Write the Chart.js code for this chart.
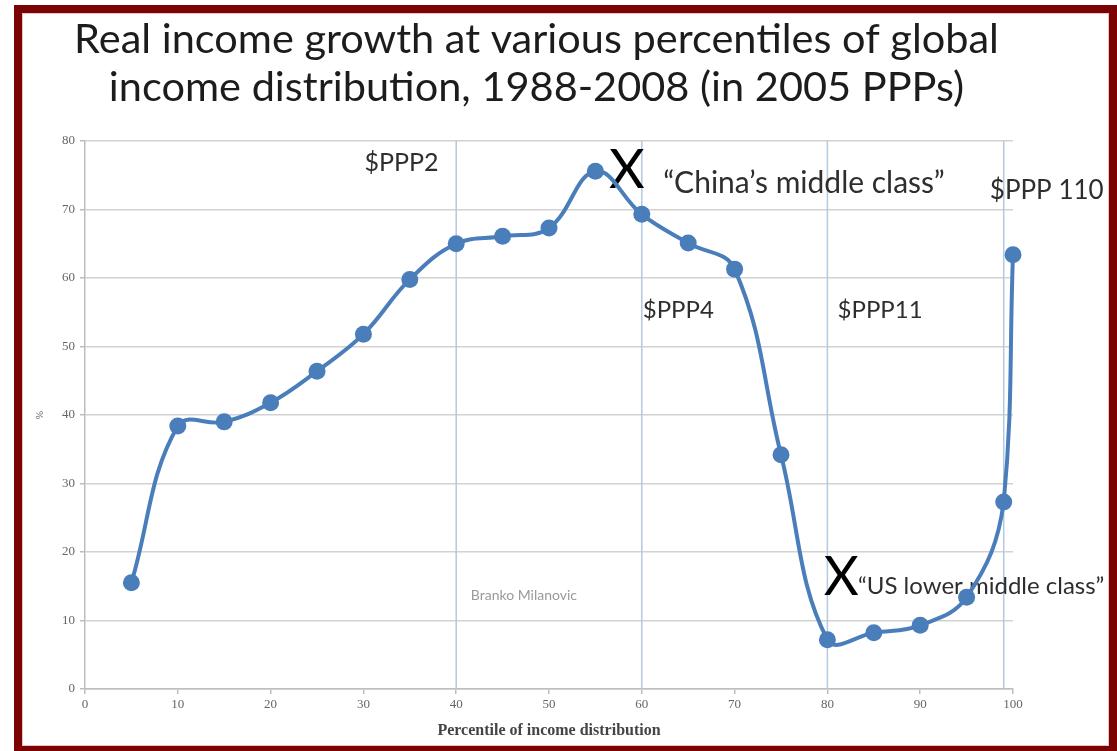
<!DOCTYPE html>
<html>
<head>
<meta charset="utf-8">
<script src="https://cdn.jsdelivr.net/npm/chart.js@4/dist/chart.umd.min.js"></script>
<style>
  html, body { margin: 0; padding: 0; background: #fff; width: 1117px; height: 751px; overflow: hidden; }
  #frame {
    position: absolute; left: 14px; top: 5px; width: 1103px; height: 749px;
    box-sizing: border-box; border: 8px solid #7b0303; background: #fff;
    box-shadow: inset 0 0 0 1px #e9c4c4;
  }
  #chart { display: block; }
</style>
</head>
<body>
<div id="frame"><canvas id="chart" width="1087" height="733"></canvas></div>
<script>
// Percentile of global income distribution
const percentiles = [5, 10, 15, 20, 25, 30, 35, 40, 45, 50, 55, 60, 65, 70, 75, 80, 85, 90, 95, 99, 100];
// Real income growth 1988-2008, %
const growth = [15.5, 38.4, 39.0, 41.8, 46.4, 51.8, 59.8, 65.0, 66.1, 67.3, 75.6, 69.3, 65.1, 61.3, 34.2, 7.2, 8.2, 9.3, 13.4, 27.3, 63.4];
// Axis ticks
const xTicks = [0, 10, 20, 30, 40, 50, 60, 70, 80, 90, 100];
const yTicks = [0, 10, 20, 30, 40, 50, 60, 70, 80];
// Vertical guide lines at income thresholds
const guideLines = [40, 60, 80, 99];

const titleLines = ['Real income growth at various percentiles of global', 'income distribution, 1988-2008 (in 2005 PPPs)'];

// Text notes placed in data coordinates
const notes = [
  { text: '$PPP2', x: 34.1, y: 76.8, align: 'center', size: 25, color: '#2e2e2e' },
  { text: 'X', x: 58.4, y: 75.8, align: 'center', size: 55, color: '#000' },
  { text: '\u201cChina\u2019s middle class\u201d', x: 62.3, y: 73.9, align: 'left', size: 30, color: '#2e2e2e' },
  { text: '$PPP 110', x: 97.5, y: 72.8, align: 'left', size: 26, color: '#2e2e2e' },
  { text: '$PPP4', x: 60.1, y: 55.3, align: 'left', size: 24, color: '#2e2e2e' },
  { text: '$PPP11', x: 81.1, y: 55.3, align: 'left', size: 24, color: '#2e2e2e' },
  { text: 'X', x: 81.5, y: 16.2, align: 'center', size: 54, color: '#000' },
  { text: '\u201cUS lower middle class\u201d', x: 83.3, y: 15.0, align: 'left', size: 24, color: '#2e2e2e' },
  { text: 'Branko Milanovic', x: 47.3, y: 13.7, align: 'center', size: 14, color: '#9a9a9a' }
];

const notesPlugin = {
  id: 'notes',
  afterLayout(chart) {
    // centre the title block over the slide rather than the padded layout box
    const tb = chart.titleBlock;
    if (tb) { tb.left += 13; tb.right += 13; }
  },
  beforeDatasetsDraw(chart) {
    const { ctx, chartArea, scales: { x, y } } = chart;
    ctx.save();
    ctx.strokeStyle = '#b3c8e2';
    ctx.lineWidth = 1.5;
    guideLines.forEach(v => {
      const px = x.getPixelForValue(v);
      ctx.beginPath();
      ctx.moveTo(px, chartArea.top);
      ctx.lineTo(px, chartArea.bottom);
      ctx.stroke();
    });
    ctx.textBaseline = 'middle';
    notes.forEach(n => {
      ctx.font = n.size + 'px Lato, "Open Sans", sans-serif';
      ctx.fillStyle = n.color;
      ctx.textAlign = n.align;
      ctx.fillText(n.text, x.getPixelForValue(n.x), y.getPixelForValue(n.y));
    });
    ctx.restore();
  }
};

const tickFont = { family: '"Liberation Serif", "DejaVu Serif", serif', size: 13 };

new Chart(document.getElementById('chart'), {
  type: 'line',
  data: {
    datasets: [{
      data: percentiles.map((p, i) => ({ x: p, y: growth[i] })),
      borderColor: '#4a7ebb',
      backgroundColor: '#4a7ebb',
      borderWidth: 4,
      pointRadius: 8.5,
      pointBorderWidth: 0,
      tension: 0.4,
      clip: false
    }]
  },
  options: {
    responsive: false,
    animation: false,
    devicePixelRatio: 1,
    layout: { padding: { left: 12, right: 96, top: 0, bottom: 6 } },
    plugins: {
      legend: { display: false },
      tooltip: { enabled: false },
      title: {
        display: true,
        text: titleLines,
        color: '#1c1c1c',
        font: { family: 'Lato, "Open Sans", sans-serif', size: 41.5, weight: 'normal', lineHeight: 1.15 },
        padding: { top: 3, bottom: 29.6 }
      }
    },
    scales: {
      x: {
        type: 'linear',
        min: 0, max: 100,
        afterBuildTicks(scale) { scale.ticks = xTicks.map(v => ({ value: v })); },
        afterFit(scale) { scale.height = 51; },
        ticks: { color: '#666', font: tickFont, padding: 3, maxRotation: 0 },
        grid: { drawOnChartArea: false, drawTicks: true, tickLength: 5, tickColor: '#bdbdbd', lineWidth: 1.5 },
        border: { display: true, color: '#bdbdbd', width: 1.5 },
        title: {
          display: true,
          text: 'Percentile of income distribution',
          color: '#444',
          font: { family: '"Liberation Serif", "DejaVu Serif", serif', size: 16, weight: 'bold' },
          padding: { top: 2, bottom: 0 }
        }
      },
      y: {
        min: 0, max: 80,
        afterBuildTicks(scale) { scale.ticks = yTicks.map(v => ({ value: v })); },
        afterFit(scale) { scale.width = 51; },
        ticks: { color: '#666', font: tickFont, padding: 5 },
        grid: { color: '#d2d2d2', lineWidth: 1.5, tickLength: 5, tickColor: '#bdbdbd' },
        border: { display: true, color: '#bdbdbd', width: 1.5 },
        title: {
          display: true,
          text: '%',
          color: '#555',
          font: { family: '"Liberation Serif", serif', size: 10 },
          padding: { top: 0, bottom: 0 }
        }
      }
    }
  },
  plugins: [notesPlugin]
});
</script>
</body>
</html>
